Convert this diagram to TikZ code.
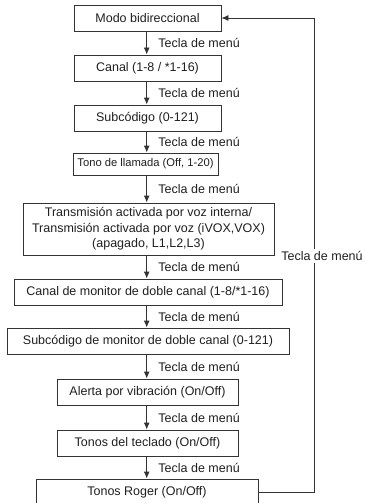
\documentclass[tikz,border=0pt]{standalone}
\usepackage{fontspec}
\setmainfont{Liberation Sans}
\usetikzlibrary{arrows.meta,calc}
\begin{document}
\begin{tikzpicture}[x=1pt,y=-1pt,
  line width=0.9pt,
  every node/.style={text=black!88},
  stepbox/.style={draw=black!80, rectangle, inner sep=0pt, font=\fontsize{12.5}{15.5}\selectfont, align=center},
  arr/.style={draw=black!80, -{Latex[length=7pt,width=6pt]}},
  lab/.style={anchor=west, inner sep=0pt, font=\fontsize{12.5}{15}\selectfont}]
\useasboundingbox (0,0) rectangle (364,503);
\coordinate (ax) at (146.7,0);
\node[stepbox, minimum width=147pt, minimum height=26pt] (b1) at (147.5,18) {Modo bidireccional};
\node[stepbox, minimum width=147pt, minimum height=26pt] (b2) at (147.5,68) {Canal (1-8 / *1-16)};
\node[stepbox, minimum width=147pt, minimum height=26pt] (b3) at (147.5,118) {Subcódigo (0-121)};
\node[stepbox, minimum width=145pt, minimum height=22pt, font=\fontsize{11.2}{13}\selectfont] (b4) at (145.5,164) {Tono de llamada (Off, 1-20)};
\node[stepbox, minimum width=251pt, minimum height=52pt] (b5) at (148.5,229) {Transmisión activada por voz interna/\\Transmisión activada por voz (iVOX,VOX)\\(apagado, L1,L2,L3)};
\node[stepbox, minimum width=268pt, minimum height=26pt] (b6) at (148,292) {Canal de monitor de doble canal (1-8/*1-16)};
\node[stepbox, minimum width=282pt, minimum height=26pt] (b7) at (148,341) {Subcódigo de monitor de doble canal (0-121)};
\node[stepbox, minimum width=181pt, minimum height=26pt] (b8) at (147.5,392) {Alerta por vibración (On/Off)};
\node[stepbox, minimum width=181pt, minimum height=26pt] (b9) at (147.5,443) {Tonos del teclado (On/Off)};
\node[stepbox, minimum width=222pt, minimum height=26pt] (b10) at (147,492) {Tonos Roger (On/Off)};
\foreach \a/\b in {b1/b2,b2/b3,b3/b4,b4/b5,b5/b6,b6/b7,b7/b8,b8/b9,b9/b10}{
  \draw[arr] (\a.south -| ax) -- node[lab, xshift=11.3pt]{Tecla de menú} (\b.north -| ax);
}
\draw[arr] (b10.east) -- ++(56,0) |- (b1.east);
\node[lab, anchor=center, fill=white, inner xsep=0.5pt, inner ysep=2pt] (fb) at (322,256) {Tecla de menú};
\end{tikzpicture}
\end{document}
